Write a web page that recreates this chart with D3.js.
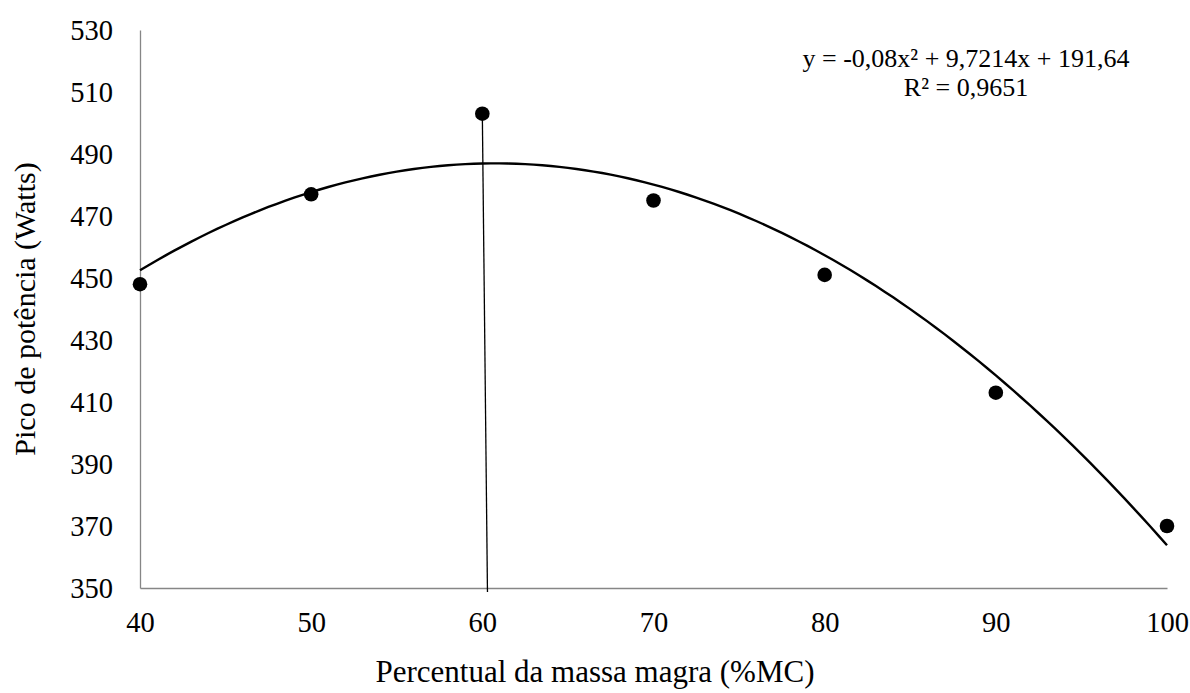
<!DOCTYPE html>
<html lang="pt">
<head>
  <meta charset="UTF-8">
  <script type="text/javascript" src="https://cdn.jsdelivr.net/npm/d3@7/dist/d3.min.js"></script>
  <title>Pico de potência</title>
  <style>
    body { margin: 0; background: #fff; }
    svg { display: block; background: #fff; }
    text { font-family: "Liberation Serif", "Times New Roman", serif; fill: #000; }
    .axis path { stroke: #868686; stroke-width: 1.3; }
    .axis line { display: none; }
    .axis text { font-size: 28.5px; font-family: "Liberation Serif", serif; }
    .dot { fill: #000; }
  </style>
</head>
<body>
<div id="chart"></div>
<script>
  // data
  var massaMagra = [40, 50, 60, 70, 80, 90, 100];
  var picoPotencia = [448, 477, 503, 475, 451, 413, 370];
  var xTicks = [40, 50, 60, 70, 80, 90, 100];
  var yTicks = [350, 370, 390, 410, 430, 450, 470, 490, 510, 530];
  // polynomial trendline y = a x^2 + b x + c, as printed in the chart
  var trendCoef = [-0.08, 9.7214, 191.64];
  var trendText = ["y = -0,08x² + 9,7214x + 191,64", "R² = 0,9651"];
  // marker line from the 60% point down through the x axis
  var markerX = [60, 60.3];
  var markerY = [503, 348.7];

  var W = 1190, H = 693;
  var mLeft = 140, mRight = 1167, mTop = 30, mBottom = 588;

  var svg = d3.select("#chart").append("svg")
    .attr("width", W).attr("height", H);

  var x = d3.scaleLinear().domain([40, 100]).range([mLeft, mRight]);
  var y = d3.scaleLinear().domain([350, 530]).range([mBottom, mTop]);

  // x axis
  svg.append("g")
    .attr("class", "axis")
    .attr("transform", "translate(0," + mBottom + ")")
    .call(d3.axisBottom(x).tickValues(xTicks).tickSize(0).tickPadding(24).tickSizeOuter(0))
    .selectAll("text").attr("dy", "0.71em");

  // y axis
  svg.append("g")
    .attr("class", "axis")
    .attr("transform", "translate(" + mLeft + ",0)")
    .call(d3.axisLeft(y).tickValues(yTicks).tickSize(0).tickPadding(27).tickSizeOuter(0));

  // trendline sampled from the printed equation
  var trendPts = d3.range(40, 100.01, 0.5).map(function (v) {
    return [v, trendCoef[0] * v * v + trendCoef[1] * v + trendCoef[2]];
  });
  svg.append("path")
    .datum(trendPts)
    .attr("fill", "none")
    .attr("stroke", "#000")
    .attr("stroke-width", 2.4)
    .attr("d", d3.line()
      .x(function (d) { return x(d[0]); })
      .y(function (d) { return y(d[1]); }));

  // marker line
  svg.append("line")
    .attr("x1", x(markerX[0])).attr("y1", y(markerY[0]))
    .attr("x2", x(markerX[1])).attr("y2", y(markerY[1]))
    .attr("stroke", "#000")
    .attr("stroke-width", 1.3);

  // points
  svg.selectAll(".dot")
    .data(massaMagra)
    .enter()
    .append("circle")
    .attr("class", "dot")
    .attr("r", 7.3)
    .attr("cx", function (d) { return x(d); })
    .attr("cy", function (d, i) { return y(picoPotencia[i]); });

  // equation
  svg.selectAll(".eq")
    .data(trendText)
    .enter()
    .append("text")
    .attr("class", "eq")
    .attr("x", 966)
    .attr("y", function (d, i) { return 67 + i * 29; })
    .attr("text-anchor", "middle")
    .style("font-size", "26px")
    .text(function (d) { return d; });

  // axis titles
  svg.append("text")
    .attr("x", 595)
    .attr("y", 682)
    .attr("text-anchor", "middle")
    .style("font-size", "31px")
    .text("Percentual da massa magra (%MC)");

  svg.append("text")
    .attr("transform", "rotate(-90)")
    .attr("x", -(mTop + mBottom) / 2)
    .attr("y", 35)
    .attr("text-anchor", "middle")
    .style("font-size", "30px")
    .text("Pico de potência (Watts)");
</script>
</body>
</html>
